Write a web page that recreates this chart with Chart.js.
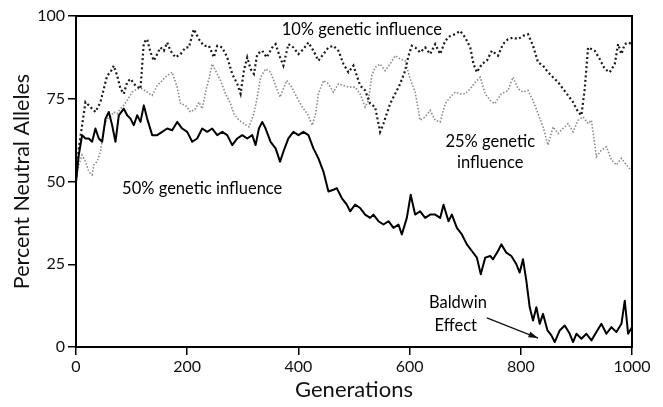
<!DOCTYPE html>
<html>
<head>
<meta charset="utf-8">
<script src="https://cdn.jsdelivr.net/npm/chart.js@4/dist/chart.umd.min.js"></script>
<style>
  html, body { margin: 0; padding: 0; background: #fff; }
  #wrap { width: 663px; height: 407px; }
</style>
</head>
<body>
<div id="wrap"><canvas id="c"></canvas></div>
<script>
// 50% genetic influence (solid)
const gens50 = [0,5,11,17,23,29,35,41,47,53,59,65,71,77,86,92,98,104,110,116,122,128,137,146,155,164,173,182,191,200,209,218,227,236,245,254,263,272,281,290,299,308,317,323,329,335,341,350,359,367,373,382,391,400,409,418,427,436,445,454,463,469,478,487,493,502,511,520,529,535,544,553,562,571,580,586,595,602,610,619,628,637,646,655,661,670,676,685,694,703,712,721,728,736,745,750,759,765,774,783,792,798,804,810,816,822,828,834,840,848,855,861,870,879,888,894,900,909,918,927,936,945,954,963,972,981,987,993,1000];
const vals50 = [50,58,64,63,63,62,66,63,62,69,71,67,62,70,72,70,69,67,70,68,73,69,64,64,65,66,65.5,68,66,65,62,63,66,65,66,64,65,64,61,63,64,63,64,61,66,68,66,62,60,56,59,63,65,64,65,64,60,57,53,47,47.5,48,45,43,41,43,42,40,39,40,38,37,38,36,37,34,39,46,40,41,39,40,40,39,43,38,40,36,34,31,29,27,22,27,27.5,26.5,29,31,28.5,27.5,25,22.5,26.5,20,12,8,12,7,10,5,3.5,1.5,5,6.5,4,1.5,4,2.5,4,2,4.5,7,4,6,4.5,7,14,4,6];

// 10% genetic influence (dark dotted)
const gens10 = [0,5,11,17,23,29,35,44,50,56,62,68,74,80,86,92,98,107,116,122,128,134,140,146,152,158,164,170,179,188,197,203,212,221,230,239,248,254,263,272,281,290,296,302,308,314,320,326,335,343,353,359,367,373,382,391,400,409,418,427,436,445,454,463,472,481,490,499,511,520,529,538,547,553,559,565,574,583,592,598,604,610,619,628,637,646,655,664,673,682,691,700,709,715,721,730,739,748,759,768,777,786,795,804,813,822,831,840,849,858,867,876,885,894,903,909,915,921,933,942,951,960,969,975,981,987,993,1000];
const vals10 = [50,60,67,74,73,72,71,74,78,82,83,85,82,78,76.5,80,81,79,78,92,93,89,86.5,88.5,90.5,89.5,92,89.5,87.5,88.5,90.5,90.5,96,93,91,91,87.5,91,90.5,87.5,82.5,79.5,76.5,83.5,87.5,84,82.5,88.5,89.5,87.5,90.5,91.5,87.5,85,91.5,90.5,88.5,90,92,89.5,86.5,88.5,90.5,91,89.5,85.5,83,85,79,77.5,73.5,72.5,65,67.5,70.5,73.5,76.5,79.5,83.5,88,91,90.5,89,90.5,88.5,91.5,88.5,92.5,94,94.5,95.5,93.5,90.5,85.5,83,85.5,86.5,89.5,88,91.5,93,93.5,93,94,94.5,91,86,85,83,81.5,80,78,76,74,71,70,78,90.5,89.5,87,84,83,85.5,91.5,88.5,91.5,92,91.5];

// 25% genetic influence (gray dotted)
const gens25 = [0,5,11,17,23,29,32,38,44,50,56,62,68,74,80,86,92,101,110,119,128,137,146,155,164,173,182,188,197,206,215,221,227,233,239,245,251,260,269,278,284,293,302,311,320,326,332,341,350,359,367,373,379,388,397,407,416,425,431,436,445,454,463,472,481,490,502,511,520,526,532,538,547,556,565,574,583,592,601,610,619,628,637,646,655,664,673,682,691,700,709,718,727,736,745,753,765,777,786,795,804,813,822,831,840,849,858,867,876,885,894,903,912,921,927,936,945,954,963,972,981,990,1000];
const vals25 = [50,55,58,56,53,52,55,56,59,66,69,69.5,71,70.5,72,73,74.5,77,78,78,77,76,79,80.5,82,83,78.5,73.5,73,71,72,74,72,77,81,85.5,83.5,80.5,76.5,73.5,70.5,68.5,67.5,66.5,70.5,75.5,81.5,84,83,79,75.5,78,80.5,78.5,75.5,72.5,70.5,67,70.5,76.5,80.5,79.5,77,79.5,79,78.5,78.5,76.5,72.5,74.5,82,84.5,85.5,83.5,85.5,88,87,86.5,81,77,68.5,69.5,71.5,68.5,68,73.5,75.5,77,76.5,76.5,78,80,81.5,76.5,74.5,73.5,76.5,77.5,81.5,78,77,77.5,74.5,70.5,66.5,61,66.5,64.5,66,67.5,65,68.5,69.5,67.5,68.5,57.5,59.5,60.5,56.5,55,57,55,53];

// labels placed in data units
const notes = [
  { text: '10% genetic influence', x: 514, y: 96 },
  { text: '25% genetic', x: 745, y: 62 },
  { text: 'influence', x: 745, y: 55.6 },
  { text: '50% genetic influence', x: 227, y: 47.7 },
  { text: 'Baldwin', x: 687, y: 13.3 },
  { text: 'Effect', x: 683, y: 6.3 }
];
const arrowFrom = { x: 739, y: 8.8 };
const arrowTo = { x: 831, y: 2.7 };

const FONT = "Lato, 'Open Sans', sans-serif";

const pts = (g, v) => g.map((x, i) => ({ x, y: v[i] }));

const annotate = {
  id: 'annotate',
  afterDatasetsDraw(chart) {
    const { ctx, chartArea, scales: { x, y } } = chart;
    ctx.save();
    ctx.fillStyle = '#000';
    ctx.font = '16.5px ' + FONT;
    ctx.textAlign = 'center';
    ctx.textBaseline = 'middle';
    notes.forEach((n) => {
      ctx.fillText(n.text, x.getPixelForValue(n.x), y.getPixelForValue(n.y));
    });

    // arrow
    const x1 = x.getPixelForValue(arrowFrom.x), y1 = y.getPixelForValue(arrowFrom.y);
    const x2 = x.getPixelForValue(arrowTo.x), y2 = y.getPixelForValue(arrowTo.y);
    const a = Math.atan2(y2 - y1, x2 - x1);
    ctx.strokeStyle = '#111';
    ctx.lineWidth = 1.3;
    ctx.beginPath();
    ctx.moveTo(x1, y1);
    ctx.lineTo(x2, y2);
    ctx.stroke();
    ctx.beginPath();
    ctx.moveTo(x2, y2);
    ctx.lineTo(x2 - 10 * Math.cos(a - 0.3), y2 - 10 * Math.sin(a - 0.3));
    ctx.lineTo(x2 - 10 * Math.cos(a + 0.3), y2 - 10 * Math.sin(a + 0.3));
    ctx.closePath();
    ctx.fillStyle = '#111';
    ctx.fill();

    // frame
    ctx.strokeStyle = '#000';
    ctx.lineWidth = 2;
    ctx.strokeRect(chartArea.left, chartArea.top, chartArea.right - chartArea.left, chartArea.bottom - chartArea.top);
    ctx.restore();
  }
};

new Chart(document.getElementById('c').getContext('2d'), {
  type: 'line',
  plugins: [annotate],
  data: {
    datasets: [
      {
        label: '25% genetic influence',
        data: pts(gens25, vals25),
        borderColor: '#8a8a8a',
        borderWidth: 1.6,
        borderDash: [1.5, 1.8],
        pointRadius: 0,
        order: 3
      },
      {
        label: '10% genetic influence',
        data: pts(gens10, vals10),
        borderColor: '#1a1a1a',
        borderWidth: 2.2,
        borderDash: [2, 2.6],
        pointRadius: 0,
        order: 2
      },
      {
        label: '50% genetic influence',
        data: pts(gens50, vals50),
        borderColor: '#000',
        borderWidth: 2,
        borderJoinStyle: 'round',
        pointRadius: 0,
        order: 1
      }
    ]
  },
  options: {
    responsive: true,
    maintainAspectRatio: false,
    animation: false,
    layout: {
      padding: { top: 16, right: 31, left: 0, bottom: 0 }
    },
    plugins: {
      legend: { display: false },
      tooltip: { enabled: false }
    },
    scales: {
      x: {
        type: 'linear',
        min: 0,
        max: 1000,
        afterFit: (s) => { s.height = 60; },
        grid: { drawOnChartArea: false, tickLength: 8, color: '#000', lineWidth: 1.5 },
        border: { display: true, color: '#000', width: 2 },
        ticks: { stepSize: 200, color: '#111', padding: 2, font: { size: 16, family: FONT }, callback: (v) => String(v) },
        title: { display: true, text: 'Generations', color: '#111', padding: { top: 0, bottom: 4 }, font: { size: 22, family: FONT } }
      },
      y: {
        min: 0,
        max: 100,
        afterFit: (s) => { s.width = 76; },
        grid: { drawOnChartArea: false, tickLength: 8, color: '#000', lineWidth: 1.5 },
        border: { display: true, color: '#000', width: 2 },
        ticks: { stepSize: 25, color: '#111', padding: 3, font: { size: 16, family: FONT } },
        title: { display: true, text: 'Percent Neutral Alleles', color: '#111', padding: { top: 9, bottom: 0 }, font: { size: 21.5, family: FONT } }
      }
    }
  }
});
</script>
</body>
</html>
